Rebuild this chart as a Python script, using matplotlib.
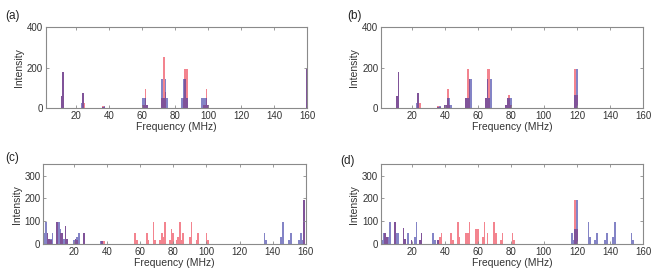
import numpy as np
import matplotlib
matplotlib.use("Agg")
import matplotlib.pyplot as plt

plt.rcParams['font.family'] = ['Liberation Sans', 'DejaVu Sans']

# ---- data (frequency bins in MHz, intensity counts) ----
# panel (a)
a_red_f = [11, 12, 24, 25, 36, 37, 60, 61, 62, 63, 72, 73, 74, 85, 86, 87, 97, 98, 99, 100, 160]
a_red_h = [60, 180, 72, 24, 12, 4, 16, 16, 96, 16, 48, 252, 80, 48, 192, 192, 16, 16, 96, 16, 192]
a_blue_f = [11, 12, 23, 24, 36, 37, 60, 61, 62, 63, 72, 73, 74, 75, 84, 85, 86, 87, 96, 97, 98, 99, 100, 160]
a_blue_h = [60, 180, 24, 72, 4, 12, 48, 48, 48, 16, 144, 48, 144, 48, 48, 144, 144, 48, 48, 48, 48, 48, 16, 192]

# panel (b)
b_red_f = [11, 12, 24, 25, 36, 37, 40, 41, 42, 43, 53, 54, 55, 65, 66, 67, 77, 78, 79, 80, 119, 120]
b_red_h = [60, 180, 72, 24, 12, 4, 16, 16, 96, 16, 48, 192, 144, 48, 192, 192, 16, 48, 64, 16, 192, 64]
b_blue_f = [11, 12, 23, 24, 36, 37, 40, 41, 42, 43, 44, 53, 54, 55, 56, 65, 66, 67, 68, 77, 78, 79, 80, 119, 120]
b_blue_h = [60, 180, 24, 72, 4, 12, 16, 16, 48, 48, 16, 48, 48, 144, 144, 48, 144, 48, 144, 16, 48, 48, 48, 64, 192]

# panel (c)
c_red_f = [4, 5, 6, 10, 12, 13, 15, 16, 21, 22, 26, 37, 38,
           57, 58, 64, 65, 68, 69, 72, 73, 74, 75, 78, 79, 80, 82, 83, 84, 85, 86,
           90, 91, 94, 95, 100, 101, 159]
c_red_h = [48, 24, 16, 96, 48, 48, 80, 24, 24, 16, 48, 12, 12,
           48, 16, 48, 16, 96, 16, 16, 48, 32, 96, 16, 64, 48, 16, 32, 96, 16, 48,
           32, 96, 16, 48, 48, 16, 192]
c_blue_f = [1, 2, 3, 4, 5, 6, 7, 10, 11, 12, 13, 14, 15, 16, 20, 21, 22, 23, 26, 36, 37,
            135, 136, 145, 146, 150, 151, 156, 157, 158, 159]
c_blue_h = [48, 48, 96, 48, 24, 24, 48, 96, 96, 64, 48, 24, 80, 24, 16, 24, 32, 48, 48, 12, 12,
            48, 16, 32, 96, 16, 48, 16, 48, 16, 192]

# panel (d)
d_red_f = [4, 5, 10, 15, 16, 20, 25, 26, 36, 37, 38, 44, 45, 48, 49, 53, 54, 55,
           59, 60, 63, 64, 66, 70, 71, 74, 75, 81, 82, 119, 120]
d_red_h = [48, 32, 96, 72, 24, 16, 16, 48, 16, 32, 48, 48, 16, 96, 32, 48, 48, 96,
           64, 64, 32, 96, 48, 96, 48, 16, 48, 48, 16, 192, 64]
d_blue_f = [2, 3, 4, 5, 6, 7, 10, 11, 12, 15, 16, 18, 20, 22, 23, 25, 26, 33, 34, 36,
            117, 118, 119, 120, 127, 128, 131, 132, 137, 138, 142, 143, 153, 154]
d_blue_h = [16, 48, 48, 32, 32, 96, 96, 48, 48, 72, 24, 48, 16, 32, 96, 16, 48, 48, 16, 16,
            48, 16, 64, 192, 96, 32, 16, 48, 16, 48, 32, 96, 48, 16]

xticks = [20, 40, 60, 80, 100, 120, 140, 160]

red = (0.92, 0.2, 0.27)
blue = (0.2, 0.2, 0.63)
grey = '#8a8a8a'

fig = plt.figure(figsize=(6.65, 2.7), dpi=100)

panels = [
    ('(a)', [0.069, 0.600, 0.393, 0.300], a_red_f, a_red_h, a_blue_f, a_blue_h, 400, [0, 200, 400]),
    ('(b)', [0.573, 0.600, 0.394, 0.300], b_red_f, b_red_h, b_blue_f, b_blue_h, 400, [0, 200, 400]),
    ('(c)', [0.065, 0.096, 0.395, 0.296], c_red_f, c_red_h, c_blue_f, c_blue_h, 350, [0, 100, 200, 300]),
    ('(d)', [0.573, 0.096, 0.394, 0.296], d_red_f, d_red_h, d_blue_f, d_blue_h, 350, [0, 100, 200, 300]),
]
label_pos = [(0.008, 0.94), (0.522, 0.94), (0.008, 0.415), (0.512, 0.405)]

for (tag, rect, rf, rh, bf, bh, ymax, yt), (lx, ly) in zip(panels, label_pos):
    ax = fig.add_axes(rect)
    ax.bar(rf, rh, width=1.0, color=red, alpha=0.6, linewidth=0)
    ax.bar(bf, bh, width=1.0, color=blue, alpha=0.6, linewidth=0)
    ax.set_xlim(1.5, 160)
    ax.set_ylim(0, ymax)
    ax.set_xticks(xticks)
    ax.set_yticks(yt)
    ax.tick_params(direction='in', length=2.5, width=0.6, colors=grey,
                   labelcolor='#333333', labelsize=7, top=True, right=True, pad=2)
    for s in ax.spines.values():
        s.set_color(grey)
        s.set_linewidth(0.8)
    ax.set_xlabel('Frequency (MHz)', fontsize=7.5, color='#333333', labelpad=1)
    ax.set_ylabel('Intensity', fontsize=7.5, color='#333333', labelpad=2)
    fig.text(lx, ly, tag, fontsize=8.5, color='#222222', va='center')

fig.savefig('out.png', dpi=100)
